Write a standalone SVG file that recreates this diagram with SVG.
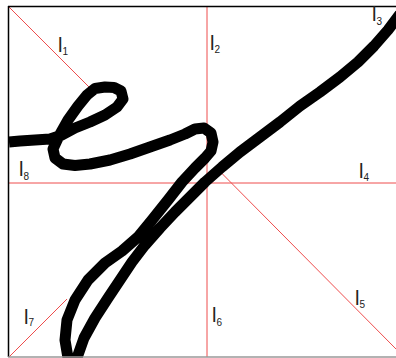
<svg xmlns="http://www.w3.org/2000/svg" width="396" height="358" viewBox="0 0 396 358">
<style>
.red{stroke:#ee4c4c;stroke-width:1;fill:none}
.ink{stroke:#000;stroke-width:11;fill:none;stroke-linejoin:round;stroke-linecap:butt}
.lab{font-family:"Liberation Sans",Arial,sans-serif;font-size:20px;fill:#222}
.sub{font-size:10px}
</style>
<rect width="396" height="358" fill="#fff"/>
<g id="axes">
<line class="red" x1="8" y1="183" x2="396" y2="183"/>
<line class="red" x1="207" y1="7" x2="207" y2="357"/>
<line class="red" x1="8" y1="6" x2="89" y2="87"/>
<line class="red" x1="9" y1="357" x2="67" y2="299"/>
<line class="red" x1="220" y1="171.5" x2="396" y2="349"/>
</g>
<g id="curve">
<path class="ink" d="M9,142 L20,141 L35,140 L50,139 L62,135 L75,128 L90,122 L105,115 L117,107 L123,99 L121,91 L114,87.5 L105,87 L95,88.5 L87,95 L78,106 L68,120 L59,136 L53,149 L55,158 L63,164 L75,165.5 L90,164 L110,160 L130,154 L150,147 L170,140 L185,134 L195,129 L204,128 L211,133 L213,142 L211,151 L205,158 L195,168 L182,182 L168,200 L152,220 L138,237 L122,251 L105,263 L88,280 L75,300 L67,320 L65,340 L68,358 L72,366 L78,355 L84,338 L95,318 L108,298 L120,280 L132,262 L145,245 L160,228 L175,212 L190,197 L205,182 L222,167 L240,152 L260,137 L280,122 L300,106 L320,92 L340,77 L358,62 L374,46 L388,30 L400,14"/>
</g>
<g id="frame">
<line x1="8" y1="6.5" x2="396" y2="6.5" stroke="#000" stroke-width="1.5"/>
<line x1="8.5" y1="6" x2="8.5" y2="357" stroke="#000" stroke-width="1.5"/>
<line x1="8" y1="357" x2="396" y2="357" stroke="#999" stroke-width="1.5"/>
</g>
<g id="labels">
<text class="lab" x="58" y="52">l<tspan class="sub" dy="3">1</tspan></text>
<text class="lab" x="210" y="50">l<tspan class="sub" dy="3">2</tspan></text>
<text class="lab" x="372" y="21">l<tspan class="sub" dy="4">3</tspan></text>
<text class="lab" x="359" y="178">l<tspan class="sub" dy="3">4</tspan></text>
<text class="lab" x="355" y="305">l<tspan class="sub" dy="3">5</tspan></text>
<text class="lab" x="212" y="322">l<tspan class="sub" dy="4">6</tspan></text>
<text class="lab" x="24" y="324">l<tspan class="sub" dy="2">7</tspan></text>
<text class="lab" x="19" y="176">l<tspan class="sub" dy="4">8</tspan></text>
</g>
</svg>
